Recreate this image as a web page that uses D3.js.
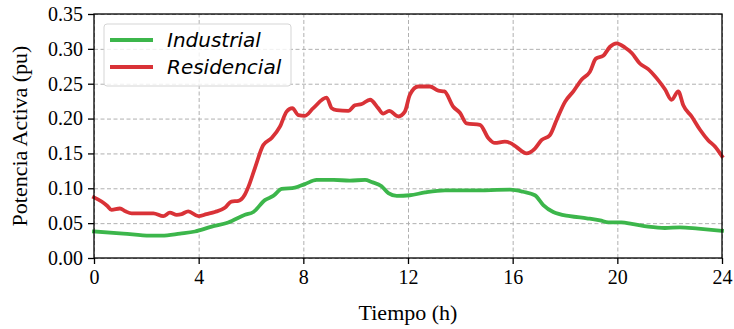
<!DOCTYPE html>
<html>
<head>
<meta charset="utf-8">
<script src="https://cdn.jsdelivr.net/npm/d3@7"></script>
<style>
	body { margin: 0; background: #fff; }
	svg { display: block; }
	.tick text { font-family: "Liberation Serif", "Times New Roman", serif; font-size: 20px; fill: #000; }
	.grid line { stroke: #b0b0b0; stroke-dasharray: 4,2.5; stroke-width: 1; }
	.grid .domain { display: none; }
</style>
</head>
<body>
<div id="chart"></div>
<script>
// Data
const hoursRes = [0, 0.29, 0.5, 0.67, 0.99, 1.2, 1.44, 2.27, 2.65, 2.9, 3.16, 3.35, 3.6, 3.99, 4.3, 4.62, 5.0, 5.25, 5.52, 5.75, 5.9, 6.15, 6.47, 6.79, 7.1, 7.36, 7.58, 7.81, 8.06, 8.38, 8.89, 9.08, 9.27, 9.72, 9.97, 10.23, 10.55, 10.86, 11.05, 11.28, 11.63, 11.88, 12.07, 12.39, 12.84, 13.16, 13.39, 13.73, 13.99, 14.24, 14.75, 15.07, 15.32, 15.7, 15.96, 16.15, 16.53, 16.85, 17.1, 17.42, 17.68, 18.0, 18.32, 18.64, 18.95, 19.18, 19.46, 19.72, 19.97, 20.29, 20.55, 20.86, 21.18, 21.5, 21.82, 22.07, 22.33, 22.52, 22.84, 23.16, 23.47, 23.73, 24];
const residencial = [0.087, 0.081, 0.075, 0.069, 0.071, 0.067, 0.064, 0.064, 0.060, 0.065, 0.062, 0.063, 0.067, 0.060, 0.063, 0.066, 0.072, 0.081, 0.082, 0.090, 0.102, 0.129, 0.162, 0.172, 0.188, 0.210, 0.215, 0.205, 0.204, 0.215, 0.230, 0.215, 0.212, 0.211, 0.219, 0.221, 0.227, 0.215, 0.207, 0.211, 0.203, 0.210, 0.234, 0.246, 0.246, 0.240, 0.239, 0.217, 0.208, 0.193, 0.191, 0.172, 0.165, 0.167, 0.164, 0.159, 0.150, 0.157, 0.169, 0.176, 0.198, 0.224, 0.239, 0.256, 0.267, 0.286, 0.290, 0.303, 0.308, 0.302, 0.294, 0.279, 0.271, 0.258, 0.242, 0.227, 0.239, 0.219, 0.203, 0.184, 0.169, 0.160, 0.146];

const hoursInd = [0, 1.12, 2.14, 2.59, 3.29, 3.86, 4.5, 5.13, 5.77, 6.09, 6.53, 6.85, 7.17, 7.68, 8.06, 8.51, 9.15, 9.78, 10.36, 10.61, 10.99, 11.25, 11.57, 12.07, 12.65, 13.41, 14.43, 15.9, 16.4, 16.85, 17.17, 17.55, 18.19, 18.83, 19.34, 19.66, 20.16, 20.55, 21.18, 21.82, 22.39, 23.09, 24];
const industrial = [0.038, 0.035, 0.032, 0.032, 0.035, 0.038, 0.045, 0.051, 0.062, 0.066, 0.083, 0.089, 0.099, 0.101, 0.106, 0.112, 0.112, 0.111, 0.112, 0.109, 0.103, 0.093, 0.089, 0.090, 0.094, 0.097, 0.097, 0.098, 0.095, 0.090, 0.076, 0.066, 0.060, 0.057, 0.054, 0.051, 0.051, 0.049, 0.045, 0.043, 0.044, 0.042, 0.039];

const xTicks = [0, 4, 8, 12, 16, 20, 24];
const yTicks = [0, 0.05, 0.1, 0.15, 0.2, 0.25, 0.3, 0.35];

const seriesNames = ["Industrial", "Residencial"];
const seriesColors = ["#3cb64b", "#d93237"];

// Dimensions
const margin = { top: 14, right: 12, bottom: 71, left: 94 };
const totalW = 734, totalH = 329;
const width = totalW - margin.left - margin.right;
const height = totalH - margin.top - margin.bottom;

const svg = d3.select("#chart").append("svg")
	.attr("width", totalW)
	.attr("height", totalH);

const g = svg.append("g")
	.attr("transform", `translate(${margin.left},${margin.top})`);

const xScale = d3.scaleLinear().domain([0, 24]).range([0, width]);
const yScale = d3.scaleLinear().domain([0, 0.35]).range([height, 0]);

// Grid lines
g.append("g")
	.attr("class", "grid")
	.attr("transform", `translate(0,${height})`)
	.call(d3.axisBottom(xScale).tickValues(xTicks).tickSize(-height).tickFormat(""));

g.append("g")
	.attr("class", "grid")
	.call(d3.axisLeft(yScale).tickValues(yTicks).tickSize(-width).tickFormat(""));

// Lines
const series = [
	{ key: seriesNames[0], color: seriesColors[0], values: hoursInd.map((h, i) => ({ h, v: industrial[i] })) },
	{ key: seriesNames[1], color: seriesColors[1], values: hoursRes.map((h, i) => ({ h, v: residencial[i] })) },
];

const line = d3.line()
	.x((d) => xScale(d.h))
	.y((d) => yScale(d.v))
	.curve(d3.curveMonotoneX);

g.append("g").attr("class", "lines")
	.selectAll("path")
	.data(series)
	.enter()
	.append("path")
	.attr("d", (d) => line(d.values))
	.style("fill", "none")
	.style("stroke", (d) => d.color)
	.style("stroke-width", 3.8)
	.style("stroke-linejoin", "round")
	.style("stroke-linecap", "square");

// Frame (spines)
g.append("rect")
	.attr("width", width)
	.attr("height", height)
	.style("fill", "none")
	.style("stroke", "#000")
	.style("stroke-width", 1.3);

// Axes
const xAxis = g.append("g")
	.attr("transform", `translate(0,${height})`)
	.call(d3.axisBottom(xScale).tickValues(xTicks).tickSize(6).tickPadding(6).tickFormat(d3.format("d")));

const yAxis = g.append("g")
	.call(d3.axisLeft(yScale).tickValues(yTicks).tickSize(6).tickPadding(5).tickFormat(d3.format(".2f")));

[xAxis, yAxis].forEach((a) => {
	a.select(".domain").remove();
	a.selectAll(".tick line").style("stroke", "#000").style("stroke-width", 1.3);
});

// Axis labels
svg.append("text")
	.attr("x", margin.left + width / 2)
	.attr("y", 320)
	.style("text-anchor", "middle")
	.style("font-family", "'Liberation Serif', serif")
	.style("font-size", "22px")
	.text("Tiempo (h)");

svg.append("text")
	.attr("transform", `translate(27,${margin.top + height / 2}) rotate(-90)`)
	.style("text-anchor", "middle")
	.style("font-family", "'Liberation Serif', serif")
	.style("font-size", "22px")
	.text("Potencia Activa (pu)");

// Legend
const legend = g.append("g").attr("transform", "translate(10,10)");

legend.append("rect")
	.attr("width", 187)
	.attr("height", 62)
	.attr("rx", 3)
	.style("fill", "rgba(255,255,255,0.8)")
	.style("stroke", "#d5d5d5")
	.style("stroke-width", 1);

series.forEach((s, i) => {
	const y = 16 + i * 27;
	legend.append("line")
		.attr("x1", 6).attr("x2", 49)
		.attr("y1", y).attr("y2", y)
		.style("stroke", s.color)
		.style("stroke-width", 3.8);
	legend.append("text")
		.attr("x", 63)
		.attr("y", y + 7)
		.style("font-family", "'DejaVu Sans', sans-serif")
		.style("font-style", "italic")
		.style("font-size", "20px")
		.text(s.key);
});
</script>
</body>
</html>
